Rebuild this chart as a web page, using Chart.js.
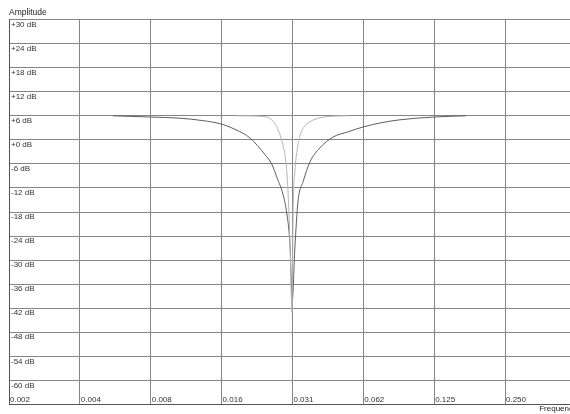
<!DOCTYPE html>
<html>
<head>
<meta charset="utf-8">
<script src="https://cdn.jsdelivr.net/npm/chart.js@4/dist/chart.umd.min.js"></script>
<style>
  html, body { margin: 0; padding: 0; background: #fff; overflow: hidden; }
  canvas { display: block; }
</style>
</head>
<body>
<canvas id="notch" width="578" height="414"></canvas>
<script>
// frequency ticks (octaves, 1/512 .. 1/4) and how they are labelled
var freqTicks = [1/512, 1/256, 1/128, 1/64, 1/32, 1/16, 1/8, 1/4];
var freqLabels = ["0.002", "0.004", "0.008", "0.016", "0.031", "0.062", "0.125", "0.250"];

// amplitude ticks, bottom to top
var dbLabels = ["", "-60 dB", "-54 dB", "-48 dB", "-42 dB", "-36 dB", "-30 dB", "-24 dB",
  "-18 dB", "-12 dB", "-6 dB", "+0 dB", "+6 dB", "+12 dB", "+18 dB", "+24 dB", "+30 dB"];

// wide notch (dark curve)
var wideFreq = [0.0054, 0.0078, 0.0104, 0.0130, 0.0157, 0.0180, 0.0206, 0.0239, 0.0255, 0.0269,
  0.0285, 0.0296, 0.0305, 0.0312, 0.0320, 0.0330, 0.0347, 0.0371, 0.0409, 0.0465,
  0.0538, 0.0623, 0.0750, 0.0895, 0.1248, 0.1707];
var wideDb = [6.0, 5.7, 5.4, 4.8, 3.9, 2.5, 0.5, -3.7, -6.0, -9.5,
  -13.6, -18.5, -26, -40.0, -27, -15.4, -10.4, -5.5, -2.0, 0.7,
  2.0, 3.2, 4.3, 5.0, 5.7, 6.0];

// narrow notch (light curve)
var narrowFreq = [0.0182, 0.0239, 0.0255, 0.0268, 0.0277, 0.0286, 0.0293, 0.0297, 0.0301, 0.0306,
  0.0311, 0.0315, 0.0320, 0.0328, 0.0337, 0.0347, 0.0371, 0.0409, 0.0466, 0.0540];
var narrowDb = [6.0, 5.8, 5.0, 3.3, 1.2, -1.7, -5.4, -9.5, -16.1, -28,
  -43.0, -16.0, -7.9, -2.1, 1.2, 2.9, 4.5, 5.5, 5.9, 6.0];

function toPoints(xs, ys) {
  return xs.map(function (x, i) { return { x: x, y: ys[i] }; });
}

var font = { family: "'Liberation Sans', Arial, sans-serif", size: 8 };

var ctx = document.getElementById("notch");
var myChart = new Chart(ctx, {
  type: 'line',
  data: {
    datasets: [{
      label: "narrow",
      data: toPoints(narrowFreq, narrowDb),
      borderColor: "#b4b4b4",
      borderWidth: 1,
      pointRadius: 0,
      cubicInterpolationMode: 'monotone',
      fill: false
    }, {
      label: "wide",
      data: toPoints(wideFreq, wideDb),
      borderColor: "#5c5c5c",
      borderWidth: 1,
      pointRadius: 0,
      cubicInterpolationMode: 'monotone',
      fill: false
    }]
  },
  options: {
    responsive: false,
    animation: false,
    layout: { padding: { left: 9, right: 1, top: 0, bottom: 0 } },
    plugins: {
      legend: { display: false },
      tooltip: { enabled: false },
      title: {
        display: true,
        text: "Amplitude",
        align: 'start',
        color: "#222",
        font: { family: font.family, size: 8.5, weight: 'normal' },
        padding: { top: 8, bottom: 1.4 }
      }
    },
    scales: {
      x: {
        type: 'logarithmic',
        min: 1/512,
        max: 0.5056,
        afterBuildTicks: function (scale) {
          scale.ticks = freqTicks.map(function (v) { return { value: v }; });
        },
        grid: { color: "#858585", drawTicks: false },
        border: { display: true, color: "#555" },
        ticks: {
          mirror: true,
          align: 'start',
          padding: 0,
          labelOffset: 1,
          maxRotation: 0,
          autoSkip: false,
          color: "#333",
          font: font,
          callback: function (v, i) { return freqLabels[i]; }
        },
        title: {
          display: true,
          text: "Frequency",
          align: 'end',
          color: "#222",
          font: font,
          padding: { top: 0, bottom: 0 }
        }
      },
      y: {
        min: -66,
        max: 30,
        afterFit: function (scale) { scale.width = 0; },
        grid: { color: "#858585", drawTicks: false },
        border: { display: true, color: "#555" },
        ticks: {
          stepSize: 6,
          mirror: true,
          padding: 2,
          labelOffset: 5,
          color: "#333",
          font: font,
          callback: function (v, i) { return dbLabels[i]; }
        }
      }
    }
  }
});
</script>
</body>
</html>
